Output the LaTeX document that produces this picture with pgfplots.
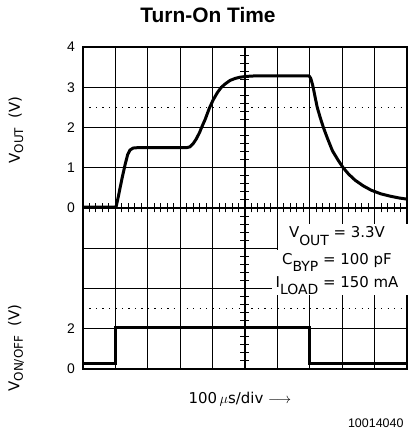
\documentclass[border=0pt]{standalone}
\usepackage{pgfplots}
\pgfplotsset{compat=1.18}
\usepackage{pgfplotstable}
\usepackage{fontspec}
\setmainfont{Liberation Sans}
\newfontfamily\dv{DejaVu Sans}
\newcommand\subA[1]{\raisebox{-0.22em}{\fontsize{12}{12}\selectfont #1}}
\newcommand\subB[1]{\raisebox{-0.5em}{\fontsize{14}{14}\selectfont #1}}

\pgfplotstableread{
x v
0 0.02
1.02 0.02
1.1 0.32
1.2 0.72
1.3 1.08
1.38 1.33
1.45 1.44
1.55 1.49
1.7 1.5
2.5 1.5
3.0 1.5
3.2 1.5
3.3 1.52
3.4 1.6
3.5 1.72
3.6 1.88
3.66 2.0
3.77 2.2
3.9 2.48
4.02 2.69
4.15 2.87
4.27 3.0
4.4 3.09
4.54 3.17
4.7 3.22
4.85 3.25
5.05 3.27
5.26 3.28
6.0 3.28
6.98 3.28
7.03 3.22
7.09 3.05
7.16 2.77
7.23 2.5
7.32 2.25
7.42 2.0
7.55 1.72
7.7 1.42
7.88 1.18
8.03 1.0
8.2 0.84
8.4 0.69
8.65 0.55
8.9 0.44
9.2 0.35
9.5 0.29
9.75 0.25
10 0.22
}\vout

\pgfplotstableread{
x v
0 0.25
1.0 0.25
1.0 2.05
7.0 2.05
7.0 0.25
10 0.25
}\von

\begin{document}
\begin{tikzpicture}
\begin{axis}[
  scale only axis, width=324bp, height=322bp,
  xmin=0, xmax=10, ymin=0, ymax=8,
  xtick={0,...,10}, ytick={0,...,8},
  xticklabels={}, yticklabels={0,2,,,0,1,2,3,\raisebox{-5bp}{4}},
  grid=major, grid style={black, line width=1.15pt},
  axis line style={line width=1.15pt},
  major tick length=0pt,
  yticklabel style={font=\fontsize{14}{14}\selectfont, inner sep=0pt, xshift=-8bp},
  clip=false,
]
\coordinate (bl) at (rel axis cs:0,0);
\draw[black, line width=1.1pt, dash pattern=on 1.3bp off 5.18bp] (axis cs:0,6.5) -- (axis cs:10,6.5);
\draw[black, line width=1.1pt, dash pattern=on 1.3bp off 5.18bp] (axis cs:0,1.5) -- (axis cs:10,1.5);
\addplot[black, line width=3pt, line join=round] table[x=x, y expr=\thisrow{v}+4] {\vout};
\addplot[black, line width=3pt, line join=miter] table[x=x, y expr=\thisrow{v}/2] {\von};
\fill[white] (axis cs:6.03,1.85) rectangle (axis cs:10.06,3.60);
\fill[white] (axis cs:5.83,1.85) rectangle (axis cs:6.03,2.96);
\node[anchor=base, font=\dv\fontsize{15}{15}\selectfont, xshift=254bp, yshift=131bp] at (rel axis cs:0,0) {V\subB{OUT} = 3.3V};
\node[anchor=base, font=\dv\fontsize{15}{15}\selectfont, xshift=254bp, yshift=105bp] at (rel axis cs:0,0) {C\subB{BYP} = 100 pF};
\node[anchor=base, font=\dv\fontsize{15}{15}\selectfont, xshift=254bp, yshift=82bp] at (rel axis cs:0,0) {I\subB{LOAD} = 150 mA};
\node[anchor=base, font=\bfseries\fontsize{21}{21}\selectfont, xshift=125bp, yshift=346bp] at (rel axis cs:0,0) {Turn-On Time};
\node[xshift=-67bp, yshift=239bp, rotate=90, anchor=center, font=\dv\fontsize{15}{15}\selectfont] at (rel axis cs:0,0) {V\subA{OUT}\ \ (V)};
\node[xshift=-67bp, yshift=21bp, rotate=90, anchor=center, font=\dv\fontsize{15}{15}\selectfont] at (rel axis cs:0,0) {V\subA{ON/OFF}\ \ (V)};
\node[anchor=base, font=\dv\fontsize{15}{15}\selectfont, xshift=157bp, yshift=-34bp] at (rel axis cs:0,0) {100\,$\mu$s/div $\longrightarrow$};
\node[anchor=base east, font=\fontsize{12.5}{12.5}\selectfont, xshift=324bp, yshift=-58bp] at (rel axis cs:0,0) {10014040};
\end{axis}
\begin{axis}[
  scale only axis, width=324bp, height=322bp,
  xmin=-5, xmax=5, ymin=-4, ymax=4,
  axis lines=middle, axis line style={-, black, line width=1.15pt},
  xtick={-5,...,5}, ytick={-4,...,4},
  minor x tick num=4, minor y tick num=4,
  xticklabels={}, yticklabels={},
  tick align=center, major tick length=0pt, minor tick length=9bp,
  minor tick style={black, line width=1.0pt},
]
\end{axis}
\pgfresetboundingbox
\path[use as bounding box] (bl) ++(-83bp,-66bp) rectangle ++(409bp,435bp);
\end{tikzpicture}
\end{document}
